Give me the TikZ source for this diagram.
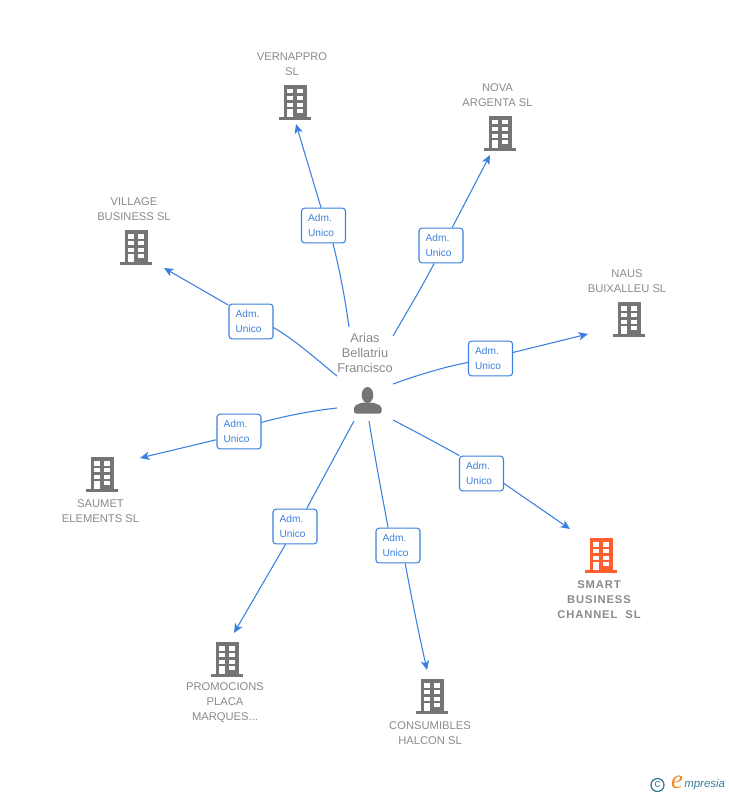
\documentclass[tikz,border=0pt]{standalone}
\usepackage{fontspec}
\setmainfont{Liberation Sans}
\newfontfamily\spacedbold[LetterSpace=8]{Liberation Sans}
\newfontfamily\logoe{Liberation Serif}
\usetikzlibrary{arrows.meta}
\definecolor{linkblue}{HTML}{3A80E0}
\definecolor{namegray}{HTML}{8A8A8A}
\definecolor{icongray}{HTML}{757575}
\definecolor{hotorange}{HTML}{FF5F2E}
\definecolor{logoblue}{HTML}{3B7D99}
\definecolor{logoorange}{HTML}{F08A24}
\tikzset{
  x=0.75pt,y=-0.75pt,
  conn/.style={draw=linkblue,line width=0.8pt},
  arr/.style={conn,-{Stealth[length=7pt,width=6.2pt,inset=1.8pt]}},
  role/.style={draw=linkblue,fill=white,line width=0.8pt,rounded corners=2.2pt,minimum width=33pt,minimum height=26pt,
    inner sep=0pt,align=left,text=linkblue,font=\fontsize{7.6}{11.2}\selectfont,text width=23pt},
  bname/.style={align=center,text=namegray,font=\fontsize{8.4}{11.2}\selectfont,inner sep=0pt},
  hot/.style={align=center,text=namegray,font=\fontsize{8.4}{11.2}\spacedbold\bfseries,inner sep=0pt},
  person name/.style={align=center,text=namegray,font=\fontsize{9.6}{11.2}\selectfont,inner sep=0pt},
  pics/bldg/.style={code={
    \fill[#1] (-11.5,-17) rectangle (11.5,15.5);
    \fill[#1] (-16,15.2) rectangle (16,17.8);
    \foreach \yy in {-12.7,-6,0.7}{
      \fill[white] (-8.3,\yy) rectangle (-2.3,\yy+4.2);
      \fill[white] (1.7,\yy) rectangle (7.7,\yy+4.2);
    }
    \fill[white] (-8.3,7) rectangle (-2.3,15.2);
    \fill[white] (1.7,7) rectangle (7.7,11.3);
  }}
}
\begin{document}
\begin{tikzpicture}
\useasboundingbox (0,0) rectangle (728,795);

% buildings
\pic at (295,102) {bldg=icongray};
\pic at (500,133) {bldg=icongray};
\pic at (136,247) {bldg=icongray};
\pic at (629,319) {bldg=icongray};
\pic at (102,474) {bldg=icongray};
\pic at (601,555) {bldg=hotorange};
\pic at (227,659) {bldg=icongray};
\pic at (432,696) {bldg=icongray};

% names
\node[bname] (nverna) at (292,64) {VERNAPPRO\\SL};
\node[bname] (nnova) at (497.5,95) {NOVA\\ARGENTA SL};
\node[bname] (nvillage) at (134,209) {VILLAGE\\BUSINESS SL};
\node[bname] (nnaus) at (627,281) {NAUS\\BUIXALLEU SL};
\node[bname] (nsaumet) at (100.5,511) {SAUMET\\ELEMENTS SL};
\node[hot] (nsmart) at (599,600) {SMART\\BUSINESS\\CHANNEL~~SL};
\node[bname] (npromo) at (225,703) {PROMOCIONS\\PLACA\\MARQUES...};
\node[bname] (ncons) at (430,733) {CONSUMIBLES\\HALCON SL};
\node[person name] (npers) at (365,353) {Arias\\Bellatriu\\Francisco};

% person
\fill[icongray] (367.5,395) ellipse (5.8 and 8);
\fill[icongray,rounded corners=1.5pt] (354,413.5) -- (354,406) -- (362,402.5) -- (373,402.5) -- (381.5,406) -- (381.5,413.5) -- cycle;

% role boxes
\node[role] (r1) at (323.5,225.5) {Adm.\\Unico};
\node[role] (r2) at (441,245.5) {Adm.\\Unico};
\node[role] (r3) at (490.5,358.5) {Adm.\\Unico};
\node[role] (r4) at (481.5,473.5) {Adm.\\Unico};
\node[role] (r5) at (398,545.5) {Adm.\\Unico};
\node[role] (r6) at (295,526.5) {Adm.\\Unico};
\node[role] (r7) at (239,431.5) {Adm.\\Unico};
\node[role] (r8) at (251,321.5) {Adm.\\Unico};

% connector ends
\coordinate (s1) at (349,327); \coordinate (e1) at (296,124);
\coordinate (s2) at (393,336); \coordinate (e2) at (490,155);
\coordinate (s3) at (393,384); \coordinate (e3) at (588,334);
\coordinate (s4) at (393,420); \coordinate (e4) at (570,529);
\coordinate (s5) at (369,421); \coordinate (e5) at (427,670);
\coordinate (s6) at (354,421); \coordinate (e6) at (234,633);
\coordinate (s7) at (337,408); \coordinate (e7) at (140,458);
\coordinate (s8) at (337,376); \coordinate (e8) at (164,268);

% connectors
\draw[conn] (s1) .. controls (345,298) and (340,272) .. (r1.-62);
\draw[arr] (r1.98) -- (e1);
\draw[conn] (s2) .. controls (408,310) and (422,287) .. (r2.-111);
\draw[arr] (r2.58) -- (e2);
\draw[conn] (s3) .. controls (418,375) and (444,367) .. (r3.190);
\draw[arr] (r3.15) -- (e3);
\draw[conn] (s4) .. controls (420,434) and (442,446) .. (r4.141);
\draw[arr] (r4.-24) -- (e4);
\draw[conn] (s5) .. controls (375,458) and (382,495) .. (r5.119);
\draw[arr] (r5.-68) .. controls (411,595) and (418,630) .. (e5);
\draw[conn] (s6) -- (r6.57);
\draw[arr] (r6.-118) -- (e6);
\draw[conn] (s7) .. controls (310,411) and (285,416) .. (r7.22);
\draw[arr] (r7.200) -- (e7);
\draw[conn] (s8) .. controls (315,358) and (295,340) .. (r8.-15);
\draw[arr] (r8.144) -- (e8);

% logo
\draw[logoblue,line width=1pt] (657.5,785) circle (6.5);
\node[inner sep=0pt,text=logoblue,font=\fontsize{8.5}{9}\selectfont] (lc) at (657.5,784.5) {c};
\node[inner sep=0pt,text=logoorange,font=\fontsize{20}{21}\logoe\itshape] (le) at (677,782) {e};
\node[inner sep=0pt,anchor=west,text=logoblue,font=\fontsize{8.6}{10}\selectfont\itshape] (lm) at (684,785) {mpresia};
\end{tikzpicture}
\end{document}
